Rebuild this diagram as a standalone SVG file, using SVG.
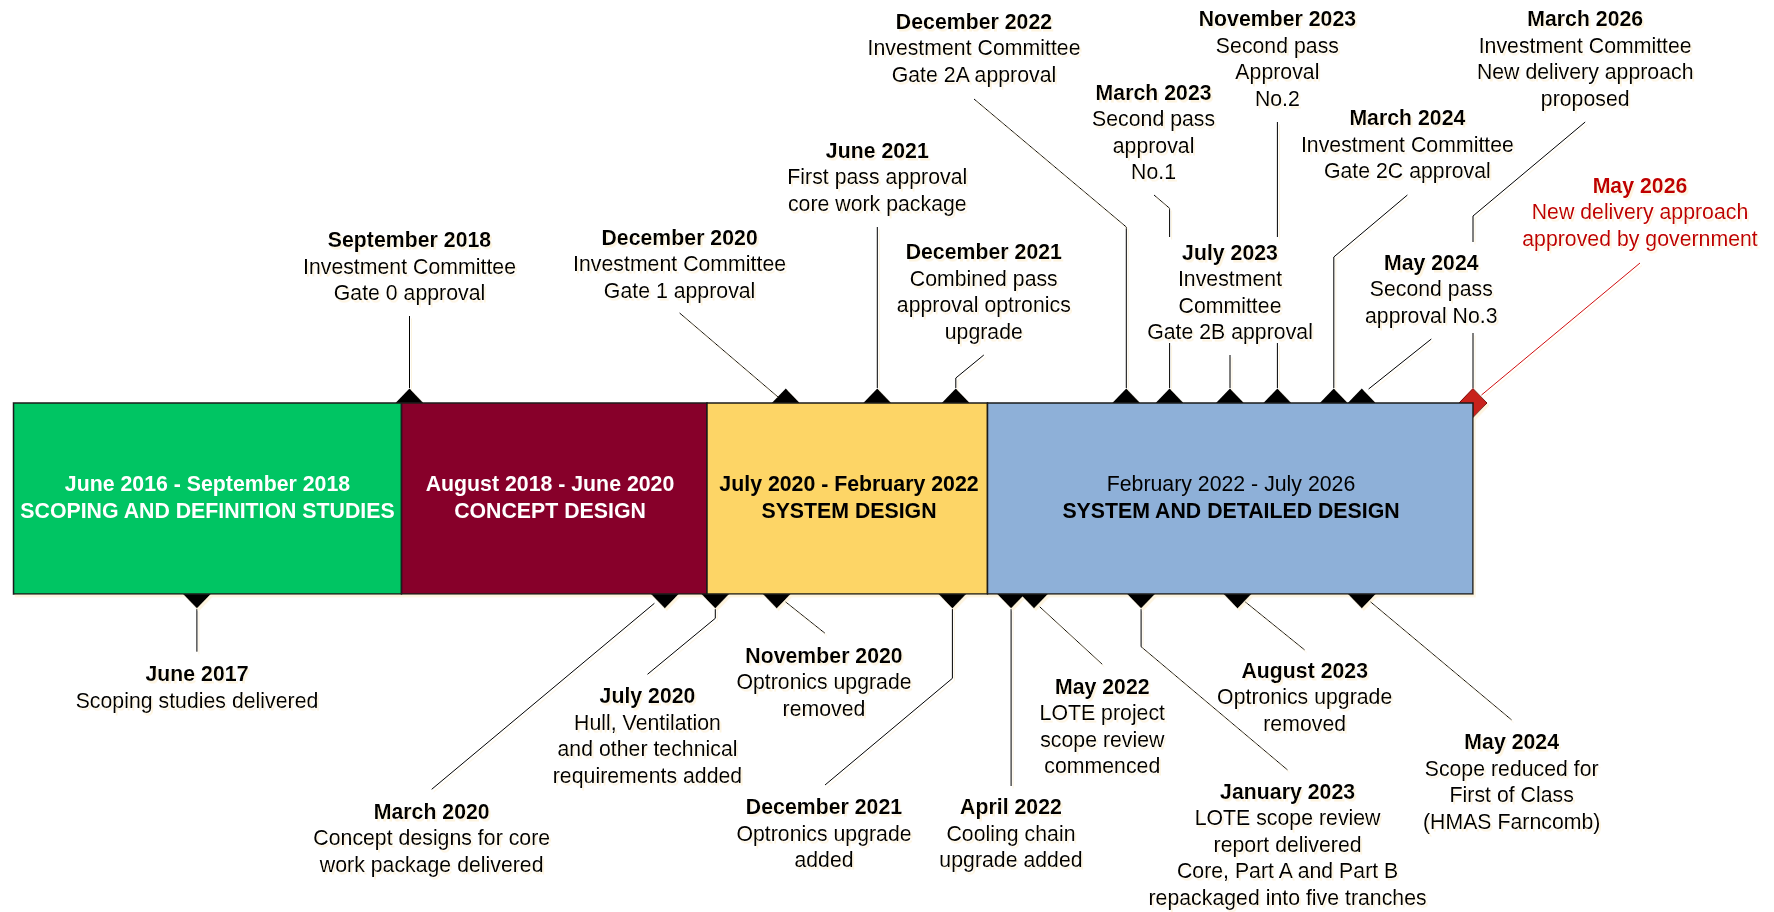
<svg xmlns="http://www.w3.org/2000/svg" width="1774" height="912" viewBox="0 0 1774 912">
  <style>
    text { font-family: "Liberation Sans", Arial, sans-serif; font-size: 21.3px; text-anchor: middle; fill: #000; }
    .b { font-weight: bold; }
    .w { fill: #fff; }
    .red { fill: #c00000; }
    .phase { stroke: #1a1a1a; stroke-width: 1.5; }
    .mk { fill: #000; }
    .ln { fill: none; stroke: #000; stroke-width: 1; }
    .lnr { fill: none; stroke: #d01010; stroke-width: 1; }
  </style>
  <defs>
    <filter id="sh" x="-5%" y="-5%" width="110%" height="110%">
      <feDropShadow dx="2" dy="2.5" stdDeviation="0.7" flood-color="#fcefd2" flood-opacity="0.7"/>
    </filter>
  </defs>
  <rect width="1774" height="912" fill="#fff"/>

  <g filter="url(#sh)">
    <!-- diamond markers, half hidden by the bar -->
    <g id="markers">
      <path class="mk" d="M409.5,388.5 L423.5,403 L409.5,417.5 L395.5,403 Z"/>
      <path class="mk" d="M785.8,388.5 L799.8,403 L785.8,417.5 L771.8,403 Z"/>
      <path class="mk" d="M877.3,388.5 L891.3,403 L877.3,417.5 L863.3,403 Z"/>
      <path class="mk" d="M955.8,388.5 L969.8,403 L955.8,417.5 L941.8,403 Z"/>
      <path class="mk" d="M1126.3,388.5 L1140.3,403 L1126.3,417.5 L1112.3,403 Z"/>
      <path class="mk" d="M1169.6,388.5 L1183.6,403 L1169.6,417.5 L1155.6,403 Z"/>
      <path class="mk" d="M1230,388.5 L1244,403 L1230,417.5 L1216,403 Z"/>
      <path class="mk" d="M1277.4,388.5 L1291.4,403 L1277.4,417.5 L1263.4,403 Z"/>
      <path class="mk" d="M1333.8,388.5 L1347.8,403 L1333.8,417.5 L1319.8,403 Z"/>
      <path class="mk" d="M1361.8,388.5 L1375.8,403 L1361.8,417.5 L1347.8,403 Z"/>
      <path d="M1473,388.5 L1487,403 L1473,417.5 L1459,403 Z" fill="#c8201e" stroke="#7a0000" stroke-width="1"/>
      <path class="mk" d="M196.9,579.5 L210.9,594 L196.9,608.5 L182.9,594 Z"/>
      <path class="mk" d="M664.8,579.5 L678.8,594 L664.8,608.5 L650.8,594 Z"/>
      <path class="mk" d="M715.3,579.5 L729.3,594 L715.3,608.5 L701.3,594 Z"/>
      <path class="mk" d="M776.7,579.5 L790.7,594 L776.7,608.5 L762.7,594 Z"/>
      <path class="mk" d="M952.4,579.5 L966.4,594 L952.4,608.5 L938.4,594 Z"/>
      <path class="mk" d="M1011.1,579.5 L1025.1,594 L1011.1,608.5 L997.1,594 Z"/>
      <path class="mk" d="M1034,579.5 L1048,594 L1034,608.5 L1020,594 Z"/>
      <path class="mk" d="M1141.1,579.5 L1155.1,594 L1141.1,608.5 L1127.1,594 Z"/>
      <path class="mk" d="M1237.5,579.5 L1251.5,594 L1237.5,608.5 L1223.5,594 Z"/>
      <path class="mk" d="M1361.8,579.5 L1375.8,594 L1361.8,608.5 L1347.8,594 Z"/>
    </g>

    <!-- phase bar -->
    <g id="phase-scoping">
      <rect class="phase" x="13.5" y="403" width="388" height="191" fill="#00c563"/>
      <text class="b w" x="207.5" y="491">June 2016 - September 2018</text>
      <text class="b w" x="207.5" y="518">SCOPING AND DEFINITION STUDIES</text>
    </g>
    <g id="phase-concept">
      <rect class="phase" x="401.5" y="403" width="305.5" height="191" fill="#87002c"/>
      <text class="b w" x="550" y="491">August 2018 - June 2020</text>
      <text class="b w" x="550" y="518">CONCEPT DESIGN</text>
    </g>
    <g id="phase-system">
      <rect class="phase" x="707" y="403" width="280.5" height="191" fill="#fdd566"/>
      <text class="b" x="849" y="491">July 2020 - February 2022</text>
      <text class="b" x="849" y="518">SYSTEM DESIGN</text>
    </g>
    <g id="phase-detailed">
      <rect class="phase" x="987.5" y="403" width="485.5" height="191" fill="#8eb0d8"/>
      <text x="1231" y="491">February 2022 - July 2026</text>
      <text class="b" x="1231" y="518">SYSTEM AND DETAILED DESIGN</text>
    </g>

    <!-- leader lines -->
    <g id="connectors">
      <path class="ln" d="M409.5,316 V388"/>
      <path class="ln" d="M679.6,313 L778,397"/>
      <path class="ln" d="M877.3,227 V388"/>
      <path class="ln" d="M983.8,355 L955.8,378 V388"/>
      <path class="ln" d="M974,99 L1126.3,227 V388"/>
      <path class="ln" d="M1154,195 L1169.6,208.3 V237 M1169.6,343 V388"/>
      <path class="ln" d="M1230,355 V388"/>
      <path class="ln" d="M1277.4,122 V237 M1277.4,343 V388"/>
      <path class="ln" d="M1407.4,195 L1333.8,257 V388"/>
      <path class="ln" d="M1431.3,339 L1368.6,389"/>
      <path class="ln" d="M1585.2,122 L1473,216 V242 M1473,333 V388"/>
      <path class="lnr" d="M1640,263 L1481.5,395"/>
      <path class="ln" d="M196.9,609 V651.7"/>
      <path class="ln" d="M654.4,603.3 L431.7,789.3"/>
      <path class="ln" d="M715.3,609 V618.3 L647.5,674.3"/>
      <path class="ln" d="M785.3,601.7 L825,633.3"/>
      <path class="ln" d="M952.4,609 V678.3 L825,785"/>
      <path class="ln" d="M1011.1,609 V786"/>
      <path class="ln" d="M1039.6,606.7 L1102.3,664.3"/>
      <path class="ln" d="M1141.1,609 V646.7 L1287.6,770"/>
      <path class="ln" d="M1245,601.7 L1304.7,650"/>
      <path class="ln" d="M1370.3,601.7 L1511.7,720"/>
    </g>

    <!-- milestones above the bar -->
    <g id="m-sep2018">
      <text class="b" x="409.5" y="247">September 2018</text>
      <text x="409.5" y="273.5">Investment Committee</text>
      <text x="409.5" y="300">Gate 0 approval</text>
    </g>
    <g id="m-dec2020">
      <text class="b" x="679.6" y="244.5">December 2020</text>
      <text x="679.6" y="271">Investment Committee</text>
      <text x="679.6" y="297.5">Gate 1 approval</text>
    </g>
    <g id="m-jun2021">
      <text class="b" x="877.3" y="157.5">June 2021</text>
      <text x="877.3" y="184">First pass approval</text>
      <text x="877.3" y="210.5">core work package</text>
    </g>
    <g id="m-dec2021-top">
      <text class="b" x="983.8" y="259">December 2021</text>
      <text x="983.8" y="285.5">Combined pass</text>
      <text x="983.8" y="312">approval optronics</text>
      <text x="983.8" y="338.5">upgrade</text>
    </g>
    <g id="m-dec2022">
      <text class="b" x="974" y="28.5">December 2022</text>
      <text x="974" y="55">Investment Committee</text>
      <text x="974" y="81.5">Gate 2A approval</text>
    </g>
    <g id="m-mar2023">
      <text class="b" x="1153.6" y="99.5">March 2023</text>
      <text x="1153.6" y="126">Second pass</text>
      <text x="1153.6" y="152.5">approval</text>
      <text x="1153.6" y="179">No.1</text>
    </g>
    <g id="m-nov2023">
      <text class="b" x="1277.4" y="26">November 2023</text>
      <text x="1277.4" y="52.5">Second pass</text>
      <text x="1277.4" y="79">Approval</text>
      <text x="1277.4" y="105.5">No.2</text>
    </g>
    <g id="m-jul2023">
      <text class="b" x="1230" y="259.5">July 2023</text>
      <text x="1230" y="286">Investment</text>
      <text x="1230" y="312.5">Committee</text>
      <text x="1230" y="339">Gate 2B approval</text>
    </g>
    <g id="m-mar2024">
      <text class="b" x="1407.4" y="125">March 2024</text>
      <text x="1407.4" y="151.5">Investment Committee</text>
      <text x="1407.4" y="178">Gate 2C approval</text>
    </g>
    <g id="m-may2024-top">
      <text class="b" x="1431.3" y="269.5">May 2024</text>
      <text x="1431.3" y="296">Second pass</text>
      <text x="1431.3" y="322.5">approval No.3</text>
    </g>
    <g id="m-mar2026">
      <text class="b" x="1585.2" y="26">March 2026</text>
      <text x="1585.2" y="52.5">Investment Committee</text>
      <text x="1585.2" y="79">New delivery approach</text>
      <text x="1585.2" y="105.5">proposed</text>
    </g>
    <g id="m-may2026">
      <text class="b red" x="1640" y="192.5">May 2026</text>
      <text class="red" x="1640" y="219">New delivery approach</text>
      <text class="red" x="1640" y="245.5">approved by government</text>
    </g>

    <!-- milestones below the bar -->
    <g id="m-jun2017">
      <text class="b" x="197" y="681">June 2017</text>
      <text x="197" y="707.5">Scoping studies delivered</text>
    </g>
    <g id="m-mar2020">
      <text class="b" x="431.7" y="818.5">March 2020</text>
      <text x="431.7" y="845">Concept designs for core</text>
      <text x="431.7" y="871.5">work package delivered</text>
    </g>
    <g id="m-jul2020">
      <text class="b" x="647.5" y="703">July 2020</text>
      <text x="647.5" y="729.5">Hull, Ventilation</text>
      <text x="647.5" y="756">and other technical</text>
      <text x="647.5" y="782.5">requirements added</text>
    </g>
    <g id="m-nov2020">
      <text class="b" x="824" y="662.5">November 2020</text>
      <text x="824" y="689">Optronics upgrade</text>
      <text x="824" y="715.5">removed</text>
    </g>
    <g id="m-dec2021-bottom">
      <text class="b" x="824" y="814">December 2021</text>
      <text x="824" y="840.5">Optronics upgrade</text>
      <text x="824" y="867">added</text>
    </g>
    <g id="m-apr2022">
      <text class="b" x="1011" y="814">April 2022</text>
      <text x="1011" y="840.5">Cooling chain</text>
      <text x="1011" y="867">upgrade added</text>
    </g>
    <g id="m-may2022">
      <text class="b" x="1102.3" y="693.5">May 2022</text>
      <text x="1102.3" y="720">LOTE project</text>
      <text x="1102.3" y="746.5">scope review</text>
      <text x="1102.3" y="773">commenced</text>
    </g>
    <g id="m-jan2023">
      <text class="b" x="1287.6" y="798.5">January 2023</text>
      <text x="1287.6" y="825">LOTE scope review</text>
      <text x="1287.6" y="851.5">report delivered</text>
      <text x="1287.6" y="878">Core, Part A and Part B</text>
      <text x="1287.6" y="904.5">repackaged into five tranches</text>
    </g>
    <g id="m-aug2023">
      <text class="b" x="1304.7" y="677.5">August 2023</text>
      <text x="1304.7" y="704">Optronics upgrade</text>
      <text x="1304.7" y="730.5">removed</text>
    </g>
    <g id="m-may2024-bottom">
      <text class="b" x="1511.7" y="749">May 2024</text>
      <text x="1511.7" y="775.5">Scope reduced for</text>
      <text x="1511.7" y="802">First of Class</text>
      <text x="1511.7" y="828.5">(HMAS Farncomb)</text>
    </g>
  </g>
</svg>
